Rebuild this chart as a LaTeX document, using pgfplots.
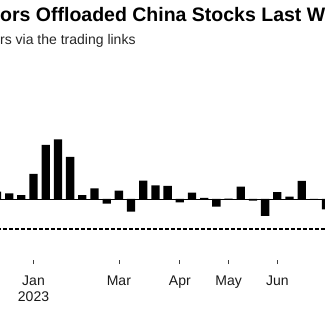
\documentclass[border=0pt]{standalone}
\usepackage{fontspec}
\setmainfont{Liberation Sans}
\usepackage{pgfplots}
\pgfplotsset{compat=1.18}
\begin{document}
\begin{tikzpicture}
\begin{axis}[
  at={(-9.135pt,74pt)}, anchor=south west,
  scale only axis, width=353.51pt, height=128.5pt,
  xmin=-1.5, xmax=27.5, ymin=-40.67, ymax=45,
  axis x line*=bottom, axis y line=none,
  x axis line style={draw=none},
  xtick={2,9,14,18,22},
  xticklabels={{Jan\\[-1pt]2023},Mar,Apr,May,Jun},
  tick align=outside, major tick length=4pt,
  xtick style={draw=black!75, line width=0.7pt},
  xticklabel style={font=\fontsize{14}{17.5}\selectfont, align=center, inner sep=0pt, anchor=north, yshift=-11.5pt, text=black!90},
  clip=false,
  ybar, bar width=8.3pt,
]
\addplot[fill=black, draw=none] coordinates {
(-1,4.9) (0,3.8) (1,2.5) (2,16.7) (3,36.0) (4,39.8) (5,28.0) (6,2.5)
(7,7.1) (8,-3.1) (9,5.5) (10,-8.5) (11,12.2) (12,9.1) (13,8.7) (14,-2.2)
(15,4.2) (16,0.7) (17,-5.1) (18,0.2) (19,8.2) (20,-1.1) (21,-11.3) (22,4.5)
(23,1.5) (24,12.0) (25,-0.2) (26,-6.9)
};
\draw[black, line width=0.8pt] (axis cs:-1.5,0) -- (axis cs:27.5,0);
\draw[black, line width=1.2pt, dash pattern=on 4pt off 2pt] (axis cs:-1.5,-20) -- (axis cs:27.5,-20);
\end{axis}
\node[anchor=base west, inner sep=0pt, font=\fontsize{19.5}{19.5}\selectfont\bfseries] at (0pt,312pt) {\llap{Foreign Invest}ors Offloaded China Stocks Last Week};
\node[anchor=base west, inner sep=0pt, font=\fontsize{14}{14}\selectfont, text=black!85] at (0pt,289.7pt) {\llap{Net purchases of Chinese stocks by foreign investo}rs via the trading links};
\pgfresetboundingbox
\path[use as bounding box] (0pt,0pt) rectangle (324pt,334pt);
\end{tikzpicture}
\end{document}
